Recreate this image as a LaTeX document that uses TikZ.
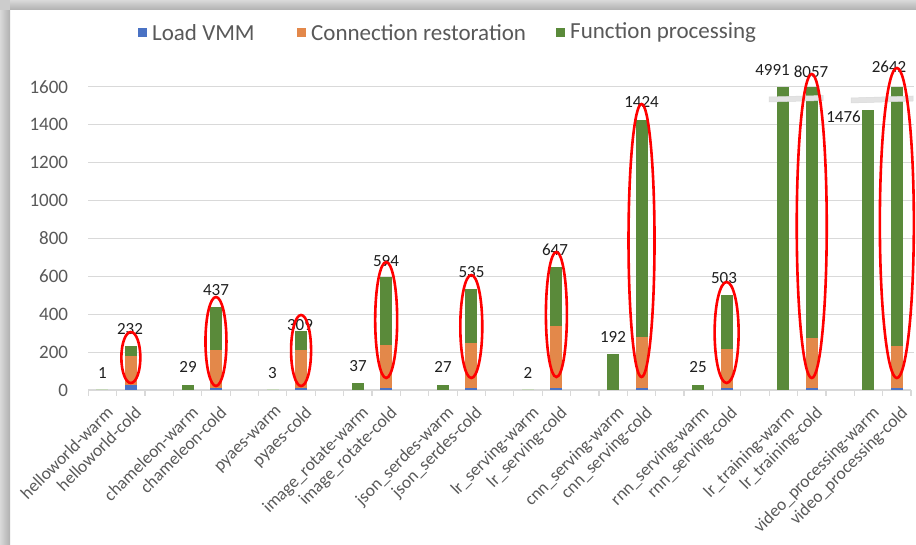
\documentclass[tikz,border=0pt]{standalone}
\usepackage{fontspec}
\setmainfont{Carlito}
\definecolor{cblue}{HTML}{4A72C4}
\definecolor{corange}{HTML}{E3884A}
\definecolor{cgreen}{HTML}{5A8A3A}
\definecolor{txtgray}{HTML}{595959}
\definecolor{gridc}{HTML}{D9D9D9}
\definecolor{valc}{HTML}{1F1F1F}
\definecolor{redc}{HTML}{FF0000}
\tikzset{
  leg/.style={font=\fontsize{23}{27}\selectfont, text=txtgray, anchor=west, inner sep=0pt},
  legbox/.style={inner sep=0pt, minimum size=9pt},
  ticklab/.style={font=\fontsize{19}{22}\selectfont, text=txtgray, anchor=east, inner sep=0pt},
  catlab/.style={font=\fontsize{17.5}{21}\selectfont, text=txtgray, rotate=45, anchor=north east, inner sep=0pt},
  vallab/.style={font=\fontsize{17}{20}\selectfont, text=valc, inner sep=0pt},
  gridline/.style={draw=gridc, line width=1pt},
  axisline/.style={draw=gridc, line width=1.2pt},
  redell/.style={draw=redc, line width=2.6pt},
  breakband/.style={fill=gray!22, draw=gray!30, line width=0.5pt}
}
\begin{document}
\begin{tikzpicture}[x=1pt,y=-1pt]
\useasboundingbox (0,0) rectangle (916,545);
\fill[white] (0,0) rectangle (916,545);
% window shadow
\shade[left color=gray!30, right color=gray!62] (0,10) rectangle (10,545);
\shade[top color=gray!30, bottom color=gray!62] (10,0) rectangle (916,10);
\fill[gray!40] (0,0) rectangle (10,10);
% gridlines
\foreach \v in {200,400,...,1600}{
  \draw[gridline] (88.3,{390-\v*0.18958}) -- (914,{390-\v*0.18958});
}
% y tick labels
\foreach \v in {0,200,...,1600}{
  \node[ticklab] (t\v) at (68.3,{390-\v*0.18958}) {\v};
}
% category axis
\draw[axisline] (88.3,390) -- (911,390);
\foreach \k in {0,...,29}{
  \draw[axisline] ({88.3+\k*28.37},390) -- ++(0,6);
}
% warm bars
\foreach \i/\v in {3/29,9/37,12/27,18/192,21/25,24/1600,27/1476}{
  \pgfmathsetmacro\cx{88.3+(\i+0.5)*28.37}
  \fill[cgreen] (\cx-6,390) rectangle (\cx+6,{390-\v*0.18958});
}
\foreach \i in {0,6,15}{
  \pgfmathsetmacro\cx{88.3+(\i+0.5)*28.37}
  \fill[cgreen!35] (\cx-6,390) rectangle (\cx+6,389);
}
% cold stacked bars
\foreach \i/\b/\o/\g in {1/28/152/52, 4/12/199/226, 7/12/199/98, 10/12/225/357, 13/12/234/289, 16/12/327/308, 19/12/269/1143, 22/12/204/287, 25/12/262/1326, 28/12/220/1368}{
  \pgfmathsetmacro\cx{88.3+(\i+0.5)*28.37}
  \pgfmathsetmacro\yb{390-\b*0.18958}
  \pgfmathsetmacro\yo{390-(\b+\o)*0.18958}
  \pgfmathsetmacro\yg{390-(\b+\o+\g)*0.18958}
  \fill[cblue] (\cx-6,390) rectangle (\cx+6,\yb);
  \fill[corange] (\cx-6,\yb) rectangle (\cx+6,\yo);
  \fill[cgreen] (\cx-6,\yo) rectangle (\cx+6,\yg);
}
% break bands
\path[breakband] (769,97) -- (823,95.5) -- (823,100.5) -- (769,102) -- cycle;
\path[breakband] (851,98) -- (913,96) -- (913,101) -- (851,103) -- cycle;
% value labels
\node[vallab] (v1) at (102.5,373) {1};
\node[vallab] (v232) at (130,329) {232};
\node[vallab] (v29) at (188,367) {29};
\node[vallab] (v437) at (216,290) {437};
\node[vallab] (v3) at (272.5,373) {3};
\node[vallab] (v309) at (300,325) {309};
\node[vallab] (v37) at (358,366) {37};
\node[vallab] (v594) at (386,261) {594};
\node[vallab] (v27) at (443,367) {27};
\node[vallab] (v535) at (471.5,272) {535};
\node[vallab] (v2) at (528,373) {2};
\node[vallab] (v647) at (555,250) {647};
\node[vallab] (v192) at (613,337) {192};
\node[vallab] (v1424) at (641.5,102) {1424};
\node[vallab] (v25) at (698,367) {25};
\node[vallab] (v503) at (724,278) {503};
\node[vallab] (v4991) at (772.5,70) {4991};
\node[vallab] (v8057) at (811,72) {8057};
\node[vallab] (v1476) at (843.5,117) {1476};
\node[vallab] (v2642) at (889,67) {2642};
% red ellipses
\foreach \i/\t/\bt/\r in {1/332/383/9.5, 4/297/386/10.5, 7/315/386/10, 10/262/378/11, 13/275/378/11, 16/252/377/10.5, 19/104/377/13, 22/282/383/12, 25/74/378/15, 28/68/378/17}{
  \pgfmathsetmacro\cx{88.3+(\i+0.5)*28.37}
  \pgfmathsetmacro\cy{(\t+\bt)/2}
  \pgfmathsetmacro\ry{(\bt-\t)/2}
  \draw[redell] (\cx,\cy) ellipse [x radius=\r, y radius=\ry];
}
% category labels
\foreach \i/\name in {0/helloworld-warm, 1/helloworld-cold, 3/chameleon-warm, 4/chameleon-cold, 6/pyaes-warm, 7/pyaes-cold, 9/image\_rotate-warm, 10/image\_rotate-cold, 12/json\_serdes-warm, 13/json\_serdes-cold, 15/lr\_serving-warm, 16/lr\_serving-cold, 18/cnn\_serving-warm, 19/cnn\_serving-cold, 21/rnn\_serving-warm, 22/rnn\_serving-cold, 24/lr\_training-warm, 25/lr\_training-cold, 27/video\_processing-warm, 28/video\_processing-cold}{
  \node[catlab] (c\i) at ({88.3+(\i+0.5)*28.37+3},405) {\name};
}
% legend
\node[legbox, fill=cblue] (lb1) at (142.5,33) {};
\node[leg] (lt1) at (152,33) {Load VMM};
\node[legbox, fill=corange] (lb2) at (301.5,33) {};
\node[leg] (lt2) at (311,33) {Connection restoration};
\node[legbox, fill=cgreen] (lb3) at (560.5,33) {};
\node[leg] (lt3) at (570,33) {Function processing};
\end{tikzpicture}
\end{document}
